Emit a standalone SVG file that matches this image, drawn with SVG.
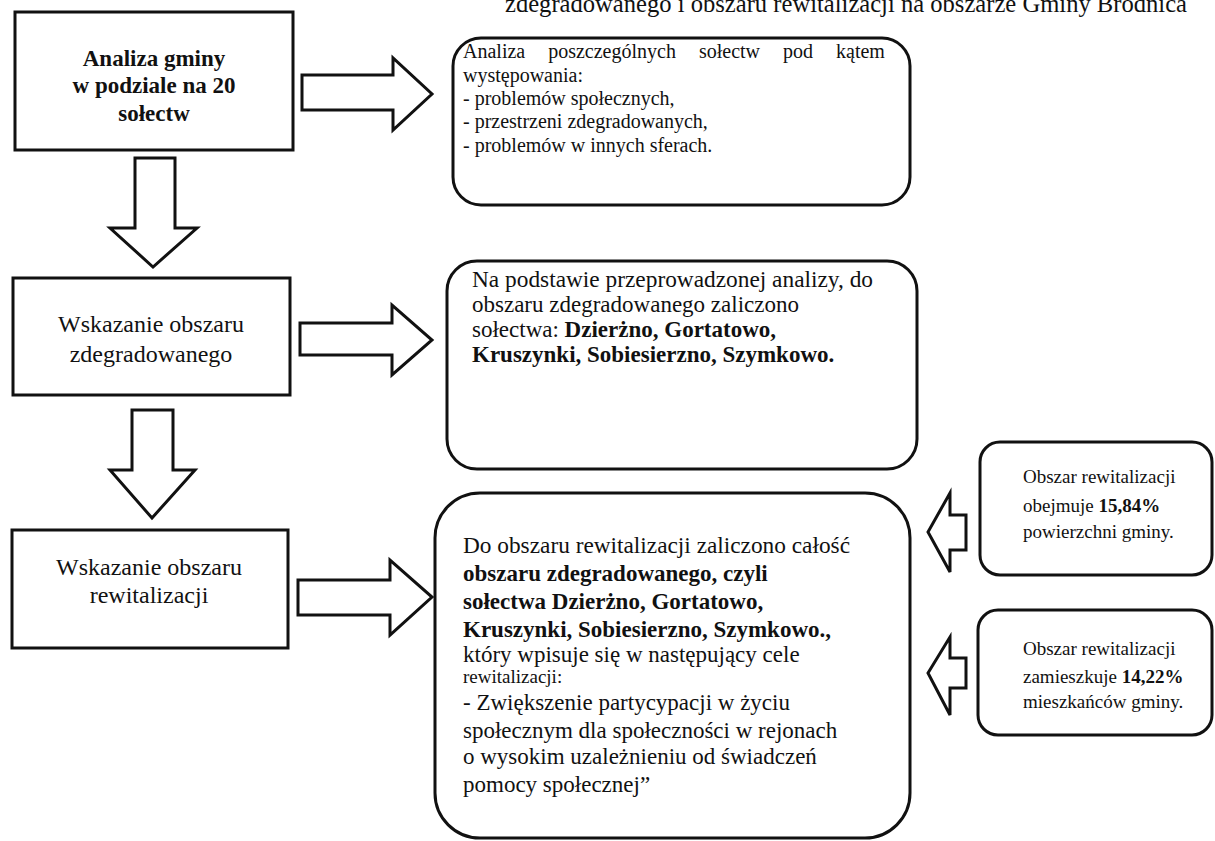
<svg xmlns="http://www.w3.org/2000/svg" width="1215" height="841" viewBox="0 0 1215 841">
<style>
.box{fill:#fff;stroke:#111;stroke-width:3}
.arr{fill:#fff;stroke:#111;stroke-width:3;stroke-linejoin:miter}
text{font-family:"Liberation Serif","Times New Roman",serif;fill:#111}
.lt{font-size:24px;text-anchor:middle}
.lb{font-size:23px;text-anchor:middle;font-weight:bold}
.t1{font-size:20px}
.t2{font-size:23px}
.t3{font-size:19px}
.st{font-size:19px}
.b{font-weight:bold}
</style>
<rect width="1215" height="841" fill="#fff"/>
<text x="505" y="12" font-size="25" textLength="682" lengthAdjust="spacingAndGlyphs">zdegradowanego i obszaru rewitalizacji na obszarze Gminy Brodnica</text>

<g id="connectors">
<path class="arr" d="M302,75 H393 V58 L432,94 L393,130 V110 H302 Z"/>
<path class="arr" d="M300,323 H392 V305 L432,340 L392,375 V355 H300 Z"/>
<path class="arr" d="M298,580 H390 V560 L432,597 L390,635 V615 H298 Z"/>
<path class="arr" d="M135,158 H175 V228 H197 L153,267 L110,228 H135 Z"/>
<path class="arr" d="M132,410 H173 V470 H195 L152,518 L110,470 H132 Z"/>
<path class="arr" d="M966,515 V550 H950 V572 L928,532 L950,493 V515 Z"/>
<path class="arr" d="M966,658 V688 H950 V715 L928,673 L950,637 V658 Z"/>
</g>

<g id="n1">
<rect class="box" x="15" y="12" width="278" height="138"/>
<text class="lb" x="154" y="66">Analiza gminy</text>
<text class="lb" x="154" y="93">w podziale na 20</text>
<text class="lb" x="154" y="121">sołectw</text>
</g>

<g id="n2">
<rect class="box" x="13" y="278" width="277" height="117"/>
<text class="lt" x="151" y="332">Wskazanie obszaru</text>
<text class="lt" x="151" y="362">zdegradowanego</text>
</g>

<g id="n3">
<rect class="box" x="12" y="530" width="276" height="118"/>
<text class="lt" x="149" y="575">Wskazanie obszaru</text>
<text class="lt" x="149" y="603">rewitalizacji</text>
</g>

<g id="n4">
<rect class="box" x="453" y="38" width="457" height="167" rx="28"/>
<text class="t1" x="463" y="58" word-spacing="18">Analiza poszczególnych sołectw pod kątem</text>
<text class="t1" x="463" y="82">występowania:</text>
<text class="t1" x="463" y="105">- problemów społecznych,</text>
<text class="t1" x="463" y="128">- przestrzeni zdegradowanych,</text>
<text class="t1" x="463" y="152">- problemów w innych sferach.</text>
</g>

<g id="n5">
<rect class="box" x="447" y="261" width="470" height="208" rx="30"/>
<text class="t2" x="472" y="287" textLength="401" lengthAdjust="spacingAndGlyphs">Na podstawie przeprowadzonej analizy, do</text>
<text class="t2" x="472" y="312">obszaru zdegradowanego zaliczono</text>
<text class="t2" x="472" y="337">sołectwa: <tspan class="b">Dzierżno, Gortatowo,</tspan></text>
<text class="t2 b" x="472" y="362">Kruszynki, Sobiesierzno, Szymkowo.</text>
</g>

<g id="n6">
<rect class="box" x="435" y="493" width="475" height="345" rx="45"/>
<text class="t2" x="463" y="553" textLength="387" lengthAdjust="spacingAndGlyphs">Do obszaru rewitalizacji zaliczono całość</text>
<text class="t2 b" x="463" y="581">obszaru zdegradowanego, czyli</text>
<text class="t2 b" x="463" y="609">sołectwa Dzierżno, Gortatowo,</text>
<text class="t2 b" x="463" y="637">Kruszynki, Sobiesierzno, Szymkowo.,</text>
<text class="t2" x="463" y="662">który wpisuje się w następujący cele</text>
<text class="t3" x="463" y="683">rewitalizacji:</text>
<text class="t2" x="463" y="710">- Zwiększenie partycypacji w życiu</text>
<text class="t2" x="463" y="738">społecznym dla społeczności w rejonach</text>
<text class="t2" x="463" y="764">o wysokim uzależnieniu od świadczeń</text>
<text class="t2" x="463" y="792">pomocy społecznej”</text>
</g>

<g id="n7">
<rect class="box" x="980" y="442" width="232" height="133" rx="20"/>
<text class="st" x="1023" y="483">Obszar rewitalizacji</text>
<text class="st" x="1023" y="512">obejmuje <tspan class="b">15,84%</tspan></text>
<text class="st" x="1023" y="538">powierzchni gminy.</text>
</g>

<g id="n8">
<rect class="box" x="978" y="610" width="234" height="125" rx="20"/>
<text class="st" x="1023" y="655">Obszar rewitalizacji</text>
<text class="st" x="1023" y="683">zamieszkuje <tspan class="b">14,22%</tspan></text>
<text class="st" x="1023" y="708">mieszkańców gminy.</text>
</g>
</svg>
